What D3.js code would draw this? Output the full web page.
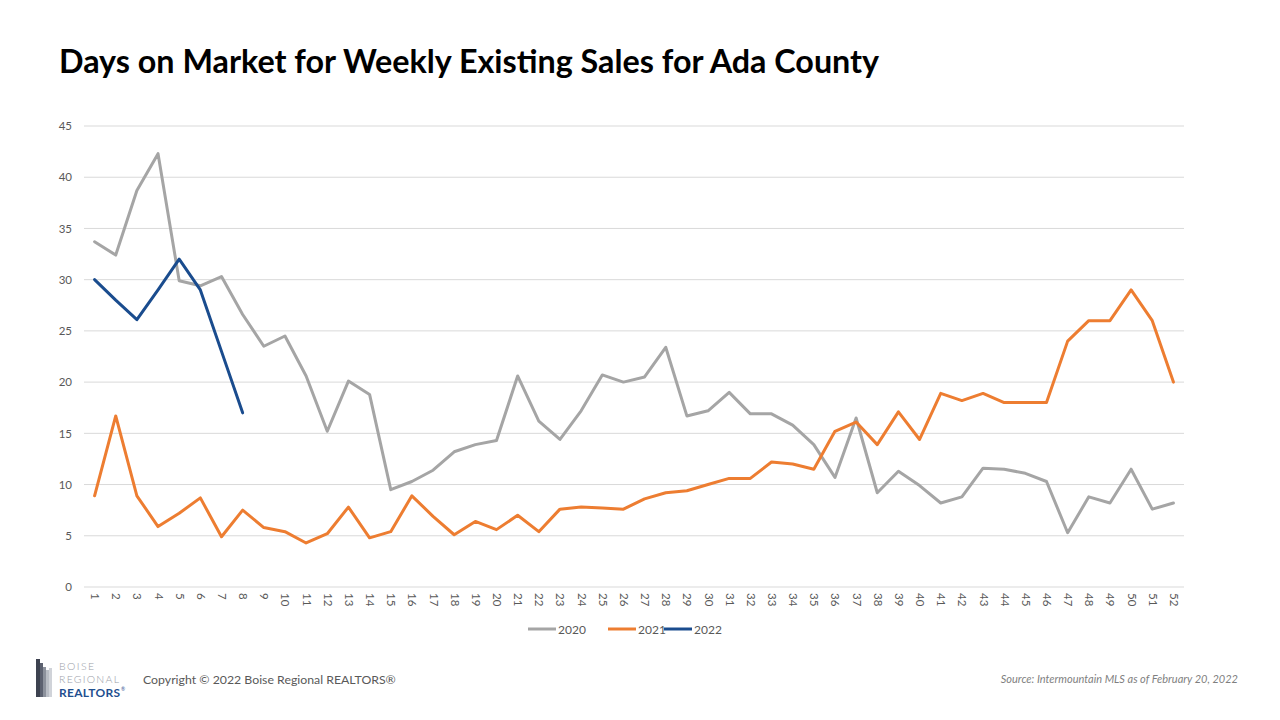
<!DOCTYPE html>
<html><head><meta charset="utf-8">
<script src="https://cdn.jsdelivr.net/npm/d3@7"></script>
<style>
html,body{margin:0;padding:0;background:#fff;}
svg{display:block;font-family:Lato,"Open Sans",sans-serif;}
</style></head><body>
<svg id="chart" width="1280" height="720"></svg>
<script>
const weeks = d3.range(1, 53);
const yTicks = [0,5,10,15,20,25,30,35,40,45];
const seriesNames = ["2020","2021","2022"];
const seriesColors = ["#A5A5A5","#ED7D31","#1A4C8E"];
const values2020 = [33.7,32.4,38.7,42.3,29.9,29.4,30.3,26.6,23.5,24.5,20.6,15.2,20.1,18.8,9.5,10.3,11.4,13.2,13.9,14.3,20.6,16.2,14.4,17.2,20.7,20.0,20.5,23.4,16.7,17.2,19.0,16.9,16.9,15.8,13.9,10.7,16.5,9.2,11.3,9.9,8.2,8.8,11.6,11.5,11.1,10.3,5.3,8.8,8.2,11.5,7.6,8.2];
const values2021 = [8.9,16.7,8.9,5.9,7.2,8.7,4.9,7.5,5.8,5.4,4.3,5.2,7.8,4.8,5.4,8.9,6.9,5.1,6.4,5.6,7.0,5.4,7.6,7.8,7.7,7.6,8.6,9.2,9.4,10.0,10.6,10.6,12.2,12.0,11.5,15.2,16.1,13.9,17.1,14.4,18.9,18.2,18.9,18.0,18.0,18.0,24.0,26.0,26.0,29.0,26.0,20.0];
const values2022 = [30.0,28.0,26.1,29.0,32.0,29.0,23.0,17.0];
const title = "Days on Market for Weekly Existing Sales for Ada County";
const copyright = "Copyright © 2022 Boise Regional REALTORS®";
const source = "Source: Intermountain MLS as of February 20, 2022";

(function(){
const svg = d3.select("#chart");
const pLeft = 84, pRight = 1184, pTop = 126, pBottom = 587;

const x = d3.scalePoint().domain(weeks).range([pLeft, pRight]).padding(0.5);
const y = d3.scaleLinear().domain([0,45]).range([pBottom, pTop]);

svg.append("text").attr("x",59).attr("y",73).attr("font-size",32.3).attr("font-weight","bold")
  .attr("fill","#000").text(title);

svg.append("g").selectAll("line").data(yTicks).join("line")
  .attr("x1",pLeft).attr("x2",pRight).attr("y1",d=>y(d)).attr("y2",d=>y(d))
  .attr("stroke","#D9D9D9").attr("stroke-width",1);

const yAxis = svg.append("g").attr("transform",`translate(${pLeft},0)`)
  .call(d3.axisLeft(y).tickValues(yTicks).tickSize(0).tickPadding(12));
yAxis.select(".domain").remove();
yAxis.selectAll("text").attr("fill","#595959").attr("font-size",11.5).attr("font-family","Lato, sans-serif");

const xAxis = svg.append("g").attr("transform",`translate(0,${pBottom})`)
  .call(d3.axisBottom(x).tickSize(0).tickPadding(0));
xAxis.select(".domain").remove();
xAxis.selectAll("text").attr("fill","#595959").attr("font-size",11.5).attr("font-family","Lato, sans-serif")
  .attr("text-anchor","start").attr("y",0).attr("dy","0.35em")
  .attr("transform","translate(0,6) rotate(90)");

const line = d3.line().x((d,i)=>x(weeks[i])).y(d=>y(d));
const allSeries = [values2020, values2021, values2022];
svg.append("g").selectAll("path").data(allSeries).join("path")
  .attr("d",d=>line(d)).attr("fill","none")
  .attr("stroke",(d,i)=>seriesColors[i]).attr("stroke-width",3)
  .attr("stroke-linejoin","round").attr("stroke-linecap","round");

const legendX = [528, 608, 664];
const lg = svg.append("g").selectAll("g").data(seriesNames).join("g")
  .attr("transform",(d,i)=>`translate(${legendX[i]},629)`);
lg.append("line").attr("x1",0).attr("x2",28).attr("stroke",(d,i)=>seriesColors[i]).attr("stroke-width",3);
lg.append("text").attr("x",30).attr("y",4.5).attr("font-size",12).attr("fill","#595959").text(d=>d);

const logo = svg.append("g").attr("transform","translate(36,659)");
const bars = [[0,4,38,"#3d4250"],[4,3,34,"#5c6170"],[7,3,30,"#8c919c"],[10,3,27,"#b9bdc5"],[13,3,29,"#d0d3d9"]];
logo.selectAll("rect").data(bars).join("rect")
  .attr("x",d=>d[0]).attr("y",d=>38-d[2]).attr("width",d=>d[1]).attr("height",d=>d[2]).attr("fill",d=>d[3]);
logo.append("text").attr("x",23).attr("y",11).attr("font-size",10.5).attr("font-weight",300).attr("fill","#9a9ea8").attr("textLength",35).text("BOISE");
logo.append("text").attr("x",23).attr("y",24).attr("font-size",10.5).attr("font-weight",300).attr("fill","#9a9ea8").attr("textLength",60).text("REGIONAL");
logo.append("text").attr("x",23).attr("y",37.5).attr("font-size",12).attr("font-weight","bold").attr("fill","#1f4f8f").attr("textLength",61).text("REALTORS");
logo.append("text").attr("x",85).attr("y",32).attr("font-size",5).attr("fill","#1f4f8f").text("®");

svg.append("text").attr("x",143).attr("y",684).attr("font-size",12.3).attr("fill","#595959").text(copyright);
svg.append("text").attr("x",1238).attr("y",683).attr("text-anchor","end").attr("font-size",11)
  .attr("font-style","italic").attr("fill","#7f7f7f").text(source);
})();
</script>
</body></html>
